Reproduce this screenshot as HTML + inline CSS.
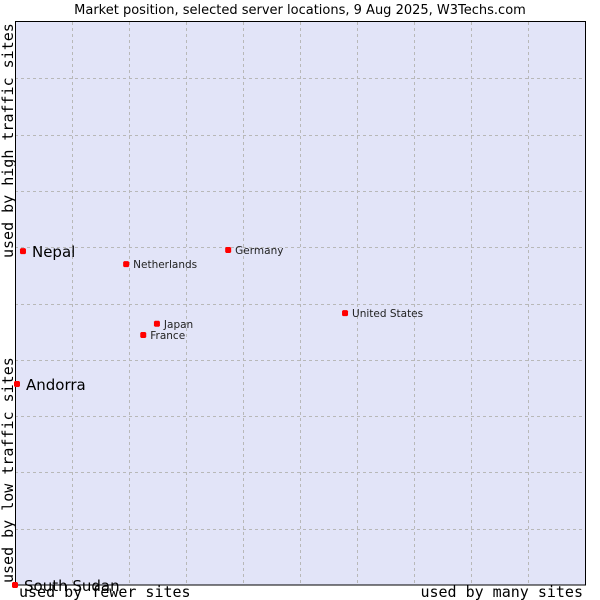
<!DOCTYPE html>
<html><head><meta charset="utf-8"><style>
body{margin:0;background:#fff;}
svg{display:block;}
</style></head><body>
<svg id="chart" width="600" height="600" xmlns="http://www.w3.org/2000/svg">
<text x="300" y="14" text-anchor="middle" font-family="DejaVu Sans, sans-serif" font-size="13" fill="#000">Market position, selected server locations, 9 Aug 2025, W3Techs.com</text>
<rect x="15" y="22" width="570" height="563" fill="#e2e4f8" stroke="none"/>
<g id="grid"></g>
<rect x="15.5" y="21.5" width="570" height="563.5" fill="none" stroke="#000" stroke-width="1"/>
<g id="points"></g>
<text x="19" y="597" font-family="DejaVu Sans Mono, monospace" font-size="15" fill="#000">used by fewer sites</text>
<text x="583" y="597" text-anchor="end" font-family="DejaVu Sans Mono, monospace" font-size="15" fill="#000">used by many sites</text>
<text transform="translate(13,583) rotate(-90)" font-family="DejaVu Sans Mono, monospace" font-size="15" fill="#000">used by low traffic sites</text>
<text transform="translate(13,258) rotate(-90)" font-family="DejaVu Sans Mono, monospace" font-size="15" fill="#000">used by high traffic sites</text>
</svg>
<script>
const names = ["Nepal","Andorra","South Sudan","Netherlands","Germany","United States","Japan","France"];
const xValues = [1.4,0.35,0,19.5,37.4,57.9,24.9,22.5];
const yValues = [59.3,35.7,0,57.0,59.5,48.3,46.4,44.4];
const bigLabel = [true,true,true,false,false,false,false,false];
const gridTicks = [10,20,30,40,50,60,70,80,90];

const NS="http://www.w3.org/2000/svg";
const X0=15,X1=585,Y0=585,Y1=22;
const sx=v=>X0+(X1-X0)*v/100;
const sy=v=>Y0-(Y0-Y1)*v/100;
const grid=document.getElementById('grid');
gridTicks.forEach(t=>{
  const v=document.createElementNS(NS,'line');
  v.setAttribute('x1',Math.round(sx(t))+0.5);v.setAttribute('x2',Math.round(sx(t))+0.5);
  v.setAttribute('y1',Y1);v.setAttribute('y2',Y0);
  v.setAttribute('stroke','#b8b8b8');v.setAttribute('stroke-dasharray','3,3');
  
  
  grid.appendChild(v);
  const h=document.createElementNS(NS,'line');
  h.setAttribute('y1',Math.round(sy(t))+0.5);h.setAttribute('y2',Math.round(sy(t))+0.5);
  h.setAttribute('x1',X0);h.setAttribute('x2',X1);
  h.setAttribute('stroke','#b8b8b8');h.setAttribute('stroke-dasharray','3,3');
  
  
  grid.appendChild(h);
});
const pts=document.getElementById('points');
names.forEach((n,i)=>{
  const x=sx(xValues[i]),y=sy(yValues[i]);
  const g=document.createElementNS(NS,'g');
  
  
  const d=document.createElementNS(NS,'path');
  d.setAttribute('d',`M${x-3} ${y-2}L${x-2} ${y-3}H${x+2}L${x+3} ${y-2}V${y+2}L${x+2} ${y+3}H${x-2}L${x-3} ${y+2}Z`);
  d.setAttribute('fill','#ff0000');
  
  
  g.appendChild(d);
  const t=document.createElementNS(NS,'text');
  t.setAttribute('x',x+(bigLabel[i]?9:7));
  t.setAttribute('y',y+(bigLabel[i]?6:4));
  t.setAttribute('font-family','DejaVu Sans, sans-serif');
  t.setAttribute('font-size',bigLabel[i]?'15':'10.5');
  t.setAttribute('fill',bigLabel[i]?'#000':'#222');
  
  
  t.textContent=n;
  g.appendChild(t);
  pts.appendChild(g);
});
</script>
</body></html>
